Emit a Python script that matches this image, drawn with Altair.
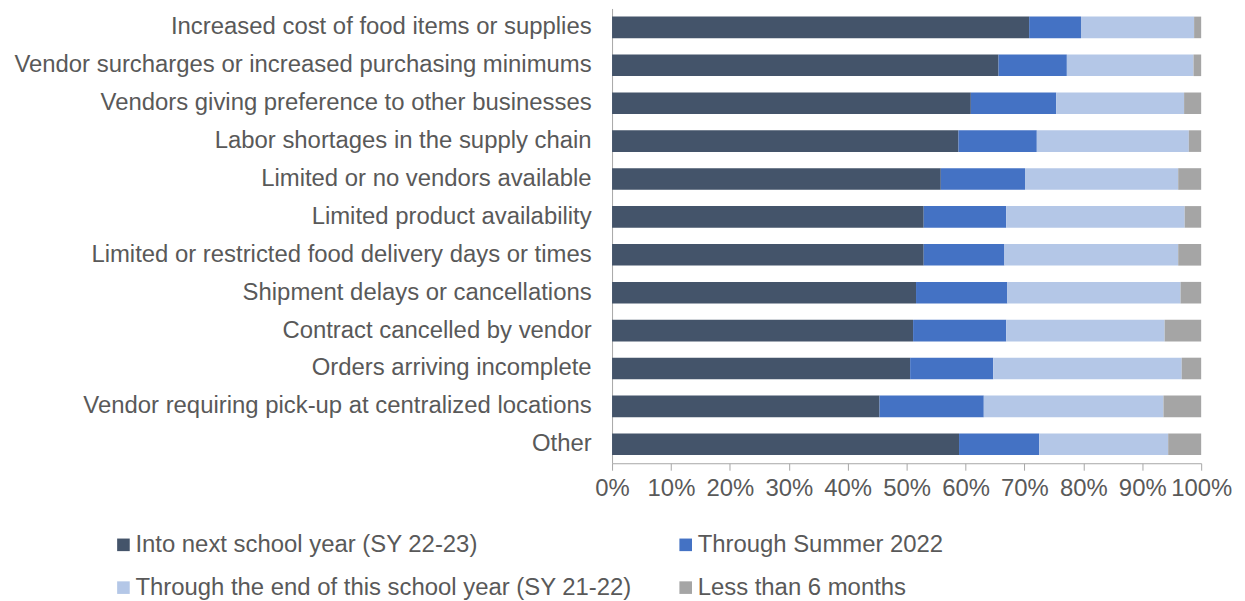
import altair as alt
import pandas as pd

categories = [
    "Increased cost of food items or supplies",
    "Vendor surcharges or increased purchasing minimums",
    "Vendors giving preference to other businesses",
    "Labor shortages in the supply chain",
    "Limited or no vendors available",
    "Limited product availability",
    "Limited or restricted food delivery days or times",
    "Shipment delays or cancellations",
    "Contract cancelled by vendor",
    "Orders arriving incomplete",
    "Vendor requiring pick-up at centralized locations",
    "Other",
]

series_names = [
    "Into next school year (SY 22-23)",
    "Through Summer 2022",
    "Through the end of this school year (SY 21-22)",
    "Less than 6 months",
]

into_next = [70.8, 65.6, 60.9, 58.8, 55.8, 52.9, 52.9, 51.6, 51.1, 50.6, 45.4, 58.9]
through_summer = [8.8, 11.6, 14.5, 13.3, 14.3, 14.0, 13.7, 15.5, 15.8, 14.1, 17.7, 13.6]
through_end = [19.2, 21.5, 21.7, 25.8, 26.0, 30.3, 29.5, 29.4, 26.9, 32.0, 30.5, 21.9]
less_than_6 = [1.2, 1.3, 2.9, 2.1, 3.9, 2.8, 3.9, 3.5, 6.2, 3.3, 6.4, 5.6]

colors = ["#44546A", "#4472C4", "#B4C7E7", "#A5A5A5"]
tick_values = [0, 10, 20, 30, 40, 50, 60, 70, 80, 90, 100]

rows = []
for s_idx, (name, vals) in enumerate(zip(series_names, [into_next, through_summer, through_end, less_than_6])):
    for cat, v in zip(categories, vals):
        rows.append({"category": cat, "series": name, "value": v, "order": s_idx})
df = pd.DataFrame(rows)

FONT = "Liberation Sans"
TEXT = "#595959"
LINE = "#A6A6A6"

chart = alt.Chart(df).mark_bar().encode(
    y=alt.Y(
        "category:N",
        sort=categories,
        title=None,
        scale=alt.Scale(paddingInner=0.43, paddingOuter=0.215),
        axis=alt.Axis(
            ticks=False,
            domain=True,
            domainColor=LINE,
            domainWidth=1,
            labelFont=FONT,
            labelFontSize=24,
            labelColor=TEXT,
            labelPadding=21,
            labelLimit=0,
        ),
    ),
    x=alt.X(
        "value:Q",
        stack="zero",
        title=None,
        scale=alt.Scale(domain=[0, 100], nice=False),
        axis=alt.Axis(
            values=tick_values,
            labelExpr="datum.value + '%'",
            grid=False,
            domainColor=LINE,
            domainWidth=1,
            tickColor=LINE,
            tickSize=7,
            labelFont=FONT,
            labelFontSize=24,
            labelColor=TEXT,
            labelPadding=6,
            labelFlush=False,
            labelOverlap=False,
        ),
    ),
    color=alt.Color(
        "series:N",
        sort=series_names,
        scale=alt.Scale(domain=series_names, range=colors),
        legend=alt.Legend(
            title=None,
            orient="none",
            direction="horizontal",
            legendX=-503,
            legendY=527,
            columns=2,
            columnPadding=42,
            rowPadding=19,
            padding=0,
            symbolType="square",
            symbolSize=160,
            symbolStrokeWidth=0,
            labelFont=FONT,
            labelFontSize=24,
            labelColor=TEXT,
            labelOffset=0,
            labelLimit=0,
        ),
    ),
    order=alt.Order("order:Q", sort="ascending"),
).properties(
    width=592,
    height=457,
    padding={"left": 5, "top": -1, "right": 5, "bottom": 5},
).configure_view(stroke=None)

chart.save("out.html", embed_options={"renderer": "svg", "actions": False})
